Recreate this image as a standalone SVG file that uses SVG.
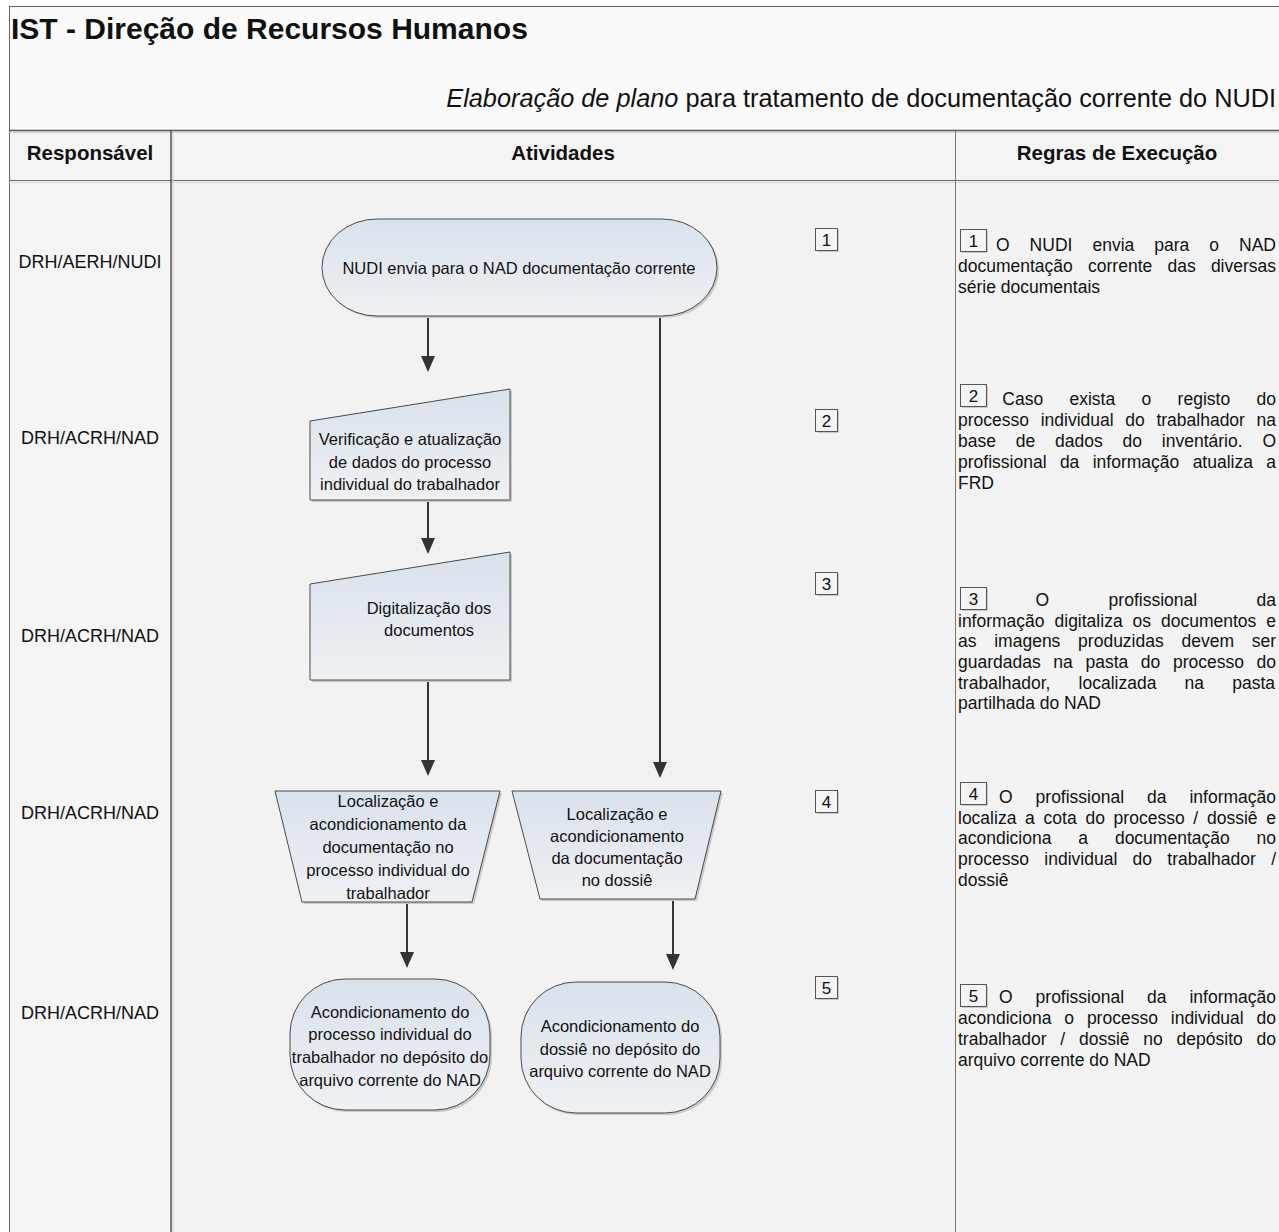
<svg xmlns="http://www.w3.org/2000/svg" width="1279" height="1232" viewBox="0 0 1279 1232">
<style>
text{font-family:"Liberation Sans",Arial,sans-serif;fill:#111}
.title{font-size:30px;font-weight:bold}
.sub{font-size:25.3px}
.hd{font-size:20.5px;font-weight:bold;text-anchor:middle}
.lab{font-size:18px;text-anchor:middle}
.nt{font-size:16.5px;text-anchor:middle}
.rt{font-size:17.5px}
.num{font-size:17px;text-anchor:middle}
.shape{fill:url(#g);stroke:#4a4a4a;stroke-width:1}
.shadow{fill:#c9c9c9;stroke:none}
.box{fill:#f4f4f4;stroke:#555;stroke-width:1}
.conn{fill:none;stroke:#333;stroke-width:2}
</style>
<defs>
<linearGradient id="g" x1="0" y1="0" x2="0" y2="1">
<stop offset="0" stop-color="#d9e1ec"/>
<stop offset="1" stop-color="#eff1f3"/>
</linearGradient>
<marker id="ah" viewBox="0 0 16 14" refX="6" refY="7" markerWidth="16" markerHeight="14" markerUnits="userSpaceOnUse" orient="auto">
<path d="M0,0 L16,7 L0,14 z" fill="#333"/>
</marker>
</defs>

<!-- backgrounds -->
<rect x="9" y="6" width="1270" height="125" fill="#fafafa"/>
<rect x="9" y="131" width="1270" height="50" fill="#f4f4f4"/>
<rect x="9" y="181" width="162" height="1051" fill="#f5f5f5"/>
<rect x="171" y="181" width="784" height="1051" fill="#f2f2f2"/>
<rect x="955" y="181" width="324" height="1051" fill="#f3f3f3"/>

<!-- frame lines -->
<g id="frame" fill="none">
<line x1="9" y1="6.5" x2="1279" y2="6.5" stroke="#666" stroke-width="1"/>
<line x1="9.5" y1="6" x2="9.5" y2="1232" stroke="#666" stroke-width="1"/>
<line x1="9" y1="130.5" x2="1279" y2="130.5" stroke="#555" stroke-width="1.5"/>
<line x1="9" y1="132.5" x2="1279" y2="132.5" stroke="#d0d0d0" stroke-width="1"/>
<line x1="9" y1="180.5" x2="1279" y2="180.5" stroke="#666" stroke-width="1"/>
<line x1="9" y1="182.5" x2="1279" y2="182.5" stroke="#d6d6d6" stroke-width="1"/>
<line x1="171" y1="131" x2="171" y2="1232" stroke="#555" stroke-width="1.5"/>
<line x1="173" y1="131" x2="173" y2="1232" stroke="#cfcfcf" stroke-width="1"/>
<line x1="955.5" y1="131" x2="955.5" y2="1232" stroke="#777" stroke-width="1"/>
</g>

<!-- titles -->
<text class="title" x="11" y="39">IST - Direção de Recursos Humanos</text>
<text class="sub" x="1276" y="107" text-anchor="end"><tspan font-style="italic">Elaboração de plano</tspan> para tratamento de documentação corrente do NUDI</text>

<!-- header -->
<text class="hd" x="90" y="160">Responsável</text>
<text class="hd" x="563" y="160">Atividades</text>
<text class="hd" x="1117" y="160">Regras de Execução</text>

<!-- responsible labels -->
<g id="responsaveis">
<text class="lab" x="90" y="268">DRH/AERH/NUDI</text>
<text class="lab" x="90" y="444">DRH/ACRH/NAD</text>
<text class="lab" x="90" y="642">DRH/ACRH/NAD</text>
<text class="lab" x="90" y="819">DRH/ACRH/NAD</text>
<text class="lab" x="90" y="1019">DRH/ACRH/NAD</text>
</g>

<!-- connectors -->
<g id="connectors">
<path class="conn" d="M428,316 V362" marker-end="url(#ah)"/>
<path class="conn" d="M428,500 V544" marker-end="url(#ah)"/>
<path class="conn" d="M428,680 V766" marker-end="url(#ah)"/>
<path class="conn" d="M660,316 V768" marker-end="url(#ah)"/>
<path class="conn" d="M407,902 V958" marker-end="url(#ah)"/>
<path class="conn" d="M673,899 V960" marker-end="url(#ah)"/>
</g>

<!-- nodes -->
<g id="n1">
<rect class="shadow" x="324" y="221" width="395" height="97" rx="55" ry="48.5"/>
<rect class="shape" x="322" y="219" width="395" height="97" rx="55" ry="48.5"/>
<text class="nt" x="519" y="274">NUDI envia para o NAD documentação corrente</text>
</g>
<g id="n2">
<polygon class="shadow" points="312,423 512,391 512,502 312,502"/>
<polygon class="shape" points="310,421 510,389 510,500 310,500"/>
<text class="nt" x="410" y="445">Verificação e atualização</text>
<text class="nt" x="410" y="468">de dados do processo</text>
<text class="nt" x="410" y="490">individual do trabalhador</text>
</g>
<g id="n3">
<polygon class="shadow" points="312,586 512,554 512,682 312,682"/>
<polygon class="shape" points="310,584 510,552 510,680 310,680"/>
<text class="nt" x="429" y="614">Digitalização dos</text>
<text class="nt" x="429" y="636">documentos</text>
</g>
<g id="n4a">
<polygon class="shadow" points="277,793 502,793 474,904 304,904"/>
<polygon class="shape" points="275,791 500,791 472,902 302,902"/>
<text class="nt" x="388" y="807">Localização e</text>
<text class="nt" x="388" y="830">acondicionamento da</text>
<text class="nt" x="388" y="853">documentação no</text>
<text class="nt" x="388" y="876">processo individual do</text>
<text class="nt" x="388" y="899">trabalhador</text>
</g>
<g id="n4b">
<polygon class="shadow" points="514,793 723,793 697,901 542,901"/>
<polygon class="shape" points="512,791 721,791 695,899 540,899"/>
<text class="nt" x="617" y="820">Localização e</text>
<text class="nt" x="617" y="842">acondicionamento</text>
<text class="nt" x="617" y="864">da documentação</text>
<text class="nt" x="617" y="886">no dossiê</text>
</g>
<g id="n5a">
<rect class="shadow" x="292" y="981" width="200" height="131" rx="55" ry="55"/>
<rect class="shape" x="290" y="979" width="200" height="131" rx="55" ry="55"/>
<text class="nt" x="390" y="1018">Acondicionamento do</text>
<text class="nt" x="390" y="1040">processo individual do</text>
<text class="nt" x="390" y="1063">trabalhador no depósito do</text>
<text class="nt" x="390" y="1086">arquivo corrente do NAD</text>
</g>
<g id="n5b">
<rect class="shadow" x="523" y="984" width="199" height="131" rx="55" ry="55"/>
<rect class="shape" x="521" y="982" width="199" height="131" rx="55" ry="55"/>
<text class="nt" x="620" y="1032">Acondicionamento do</text>
<text class="nt" x="620" y="1055">dossiê no depósito do</text>
<text class="nt" x="620" y="1077">arquivo corrente do NAD</text>
</g>

<!-- step number boxes (activities column) -->
<g id="steps">
<rect class="shadow" x="817" y="230" width="22" height="22"/><rect class="box" x="815.5" y="228.5" width="22" height="22"/><text class="num" x="826.5" y="245.5">1</text>
<rect class="shadow" x="817" y="411" width="22" height="22"/><rect class="box" x="815.5" y="409.5" width="22" height="22"/><text class="num" x="826.5" y="426.5">2</text>
<rect class="shadow" x="817" y="574" width="22" height="22"/><rect class="box" x="815.5" y="572.5" width="22" height="22"/><text class="num" x="826.5" y="589.5">3</text>
<rect class="shadow" x="817" y="792" width="22" height="22"/><rect class="box" x="815.5" y="790.5" width="22" height="22"/><text class="num" x="826.5" y="807.5">4</text>
<rect class="shadow" x="817" y="978" width="22" height="22"/><rect class="box" x="815.5" y="976.5" width="22" height="22"/><text class="num" x="826.5" y="993.5">5</text>
</g>

<!-- rules -->
<g id="regras">
<rect class="shadow" x="962" y="231" width="26" height="22"/><rect class="box" x="960.5" y="229.5" width="26" height="22"/><text class="num" x="973.5" y="246.5">1</text>
<text class="rt" x="996" y="251" word-spacing="15.15">O NUDI envia para o NAD</text>
<text class="rt" x="958" y="272" word-spacing="10.36">documentação corrente das diversas</text>
<text class="rt" x="958" y="293">série documentais</text>

<rect class="shadow" x="962" y="386" width="26" height="22"/><rect class="box" x="960.5" y="384.5" width="26" height="22"/><text class="num" x="973.5" y="401.5">2</text>
<text class="rt" x="1002.3" y="405" word-spacing="21.48">Caso exista o registo do</text>
<text class="rt" x="958" y="426" word-spacing="6.79">processo individual do trabalhador na</text>
<text class="rt" x="958" y="447" word-spacing="14.96">base de dados do inventário. O</text>
<text class="rt" x="958" y="468" word-spacing="8.5">profissional da informação atualiza a</text>
<text class="rt" x="958" y="489">FRD</text>

<rect class="shadow" x="962" y="589" width="26" height="22"/><rect class="box" x="960.5" y="587.5" width="26" height="22"/><text class="num" x="973.5" y="604.5">3</text>
<text class="rt" x="1035.5" y="606" word-spacing="54.61">O profissional da</text>
<text class="rt" x="958" y="627" word-spacing="5.09">informação digitaliza os documentos e</text>
<text class="rt" x="958" y="647" word-spacing="12.88">as imagens produzidas devem ser</text>
<text class="rt" x="958" y="668" word-spacing="7.76">guardadas na pasta do processo do</text>
<text class="rt" x="958" y="689" word-spacing="23.32">trabalhador, localizada na pasta</text>
<text class="rt" x="958" y="709">partilhada do NAD</text>

<rect class="shadow" x="962" y="784" width="26" height="22"/><rect class="box" x="960.5" y="782.5" width="26" height="22"/><text class="num" x="973.5" y="799.5">4</text>
<text class="rt" x="999" y="803" word-spacing="18.1">O profissional da informação</text>
<text class="rt" x="958" y="824" word-spacing="3.88">localiza a cota do processo / dossiê e</text>
<text class="rt" x="958" y="844" word-spacing="22.02">acondiciona a documentação no</text>
<text class="rt" x="958" y="865" word-spacing="10.44">processo individual do trabalhador /</text>
<text class="rt" x="958" y="886">dossiê</text>

<rect class="shadow" x="962" y="986" width="26" height="22"/><rect class="box" x="960.5" y="984.5" width="26" height="22"/><text class="num" x="973.5" y="1001.5">5</text>
<text class="rt" x="999" y="1003" word-spacing="18.1">O profissional da informação</text>
<text class="rt" x="958" y="1024" word-spacing="8.01">acondiciona o processo individual do</text>
<text class="rt" x="958" y="1045" word-spacing="8.93">trabalhador / dossiê no depósito do</text>
<text class="rt" x="958" y="1066">arquivo corrente do NAD</text>
</g>
</svg>
